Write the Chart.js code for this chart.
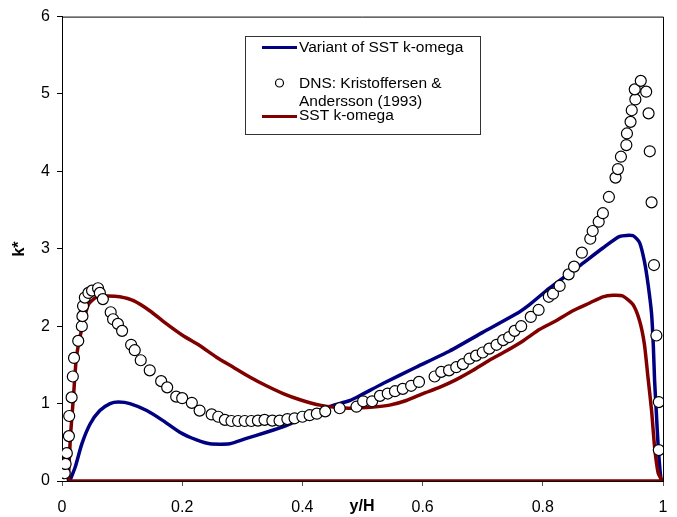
<!DOCTYPE html>
<html>
<head>
<meta charset="utf-8">
<script src="https://cdn.jsdelivr.net/npm/chart.js@4"></script>
<style>
  body { margin: 0; background: #fff; }
  #kChart { display: block; }
</style>
</head>
<body>
<canvas id="kChart" width="677" height="517"></canvas>
<script>
// k* profile across the channel (y/H from wall to wall)
const xTicks = [0, 0.2, 0.4, 0.6, 0.8, 1];
const yTicks = [0, 1, 2, 3, 4, 5, 6];

// DNS points
const dnsX = [0, 0.0045, 0.006, 0.008, 0.0115, 0.012, 0.016, 0.018, 0.02, 0.027, 0.033, 0.034, 0.035, 0.038, 0.044, 0.05, 0.06, 0.063, 0.068,
  0.081, 0.085, 0.093, 0.1, 0.115, 0.121, 0.131, 0.146, 0.165, 0.175, 0.19, 0.2, 0.216, 0.229, 0.249, 0.26, 0.271, 0.282, 0.293, 0.304,
  0.315, 0.326, 0.337, 0.35, 0.362, 0.375, 0.387, 0.4, 0.412, 0.424, 0.438, 0.462, 0.49, 0.501, 0.516, 0.529, 0.542, 0.554, 0.567, 0.581,
  0.594, 0.62, 0.631, 0.644, 0.656, 0.667, 0.678, 0.689, 0.7, 0.711, 0.723, 0.734, 0.744, 0.753, 0.764, 0.78, 0.793, 0.81, 0.817, 0.828,
  0.843, 0.852, 0.865, 0.879, 0.883, 0.893, 0.9, 0.91, 0.921, 0.925, 0.93, 0.939, 0.94, 0.946, 0.948, 0.954, 0.953, 0.963, 0.972, 0.976,
  0.978, 0.981, 0.985, 0.989, 0.993, 0.993];
const dnsK = [0, 0.1, 0.22, 0.36, 0.58, 0.84, 1.08, 1.35, 1.59, 1.81, 2.0, 2.13, 2.26, 2.37, 2.43, 2.46, 2.49, 2.43, 2.35,
  2.18, 2.09, 2.03, 1.94, 1.76, 1.69, 1.56, 1.43, 1.29, 1.21, 1.09, 1.07, 1.01, 0.91, 0.86, 0.83, 0.79, 0.775, 0.775, 0.775,
  0.775, 0.78, 0.79, 0.78, 0.78, 0.8, 0.81, 0.83, 0.85, 0.87, 0.9, 0.94, 0.96, 1.03, 1.03, 1.1, 1.13, 1.16, 1.19, 1.23,
  1.28, 1.35, 1.41, 1.43, 1.47, 1.51, 1.58, 1.62, 1.66, 1.71, 1.76, 1.82, 1.86, 1.94, 2.0, 2.12, 2.21, 2.38, 2.42, 2.52,
  2.67, 2.77, 2.95, 3.13, 3.23, 3.35, 3.46, 3.67, 3.92, 4.03, 4.19, 4.34, 4.49, 4.64, 4.79, 4.93, 5.06, 5.17, 5.03, 4.75,
  4.26, 3.6, 2.79, 1.88, 1.02, 0.4];

// SST k-omega (path returns along the bottom wall)
const sstX = [0.0105, 0.014, 0.019, 0.024, 0.033, 0.044, 0.058, 0.077, 0.096, 0.119, 0.146, 0.174, 0.201, 0.229, 0.257, 0.285, 0.313,
  0.34, 0.368, 0.396, 0.429, 0.457, 0.479, 0.518, 0.545, 0.573, 0.601, 0.628, 0.656, 0.684, 0.711, 0.739, 0.767, 0.795, 0.822, 0.85,
  0.878, 0.9, 0.917, 0.933, 0.95, 0.961, 0.969, 0.975, 0.981, 0.986, 0.992, 0.997, 0.0105];
const sstK = [0, 0.57, 1.08, 1.6, 1.97, 2.28, 2.38, 2.39, 2.38, 2.33, 2.2, 2.03, 1.88, 1.75, 1.6, 1.47, 1.34,
  1.23, 1.13, 1.05, 0.98, 0.95, 0.94, 0.955, 0.98, 1.04, 1.13, 1.21, 1.31, 1.43, 1.56, 1.68, 1.81, 1.96, 2.07, 2.2,
  2.3, 2.38, 2.4, 2.39, 2.28, 2.07, 1.77, 1.34, 0.91, 0.44, 0.1, 0, 0];

// Variant of SST k-omega
const varX = [0.013, 0.022, 0.033, 0.047, 0.063, 0.08, 0.094, 0.113, 0.141, 0.168, 0.196, 0.224, 0.246, 0.279, 0.307, 0.34, 0.374,
  0.407, 0.44, 0.479, 0.495, 0.534, 0.589, 0.645, 0.7, 0.756, 0.778, 0.806, 0.861, 0.9, 0.928, 0.95, 0.961, 0.969, 0.975, 0.981,
  0.984, 0.986, 0.989, 0.992, 0.995, 0.997];
const varK = [0, 0.18, 0.48, 0.74, 0.91, 1.0, 1.02, 1.0, 0.91, 0.78, 0.63, 0.53, 0.48, 0.48, 0.55, 0.63, 0.72,
  0.83, 0.95, 1.04, 1.1, 1.26, 1.47, 1.68, 1.92, 2.16, 2.28, 2.46, 2.78, 3.01, 3.16, 3.17, 3.08, 2.84, 2.55, 2.16,
  1.73, 1.3, 0.87, 0.44, 0.14, 0];

const toPoints = (xs, ys) => xs.map((x, i) => ({ x: x, y: ys[i] }));

const BLUE = '#000080';
const RED = '#800000';
const FONT = '"Liberation Sans", Arial, sans-serif';

// legend box, axis titles and the plot frame
const decorations = {
  id: 'decorations',
  beforeDatasetsDraw(chart) {
    const { ctx, chartArea: a } = chart;
    ctx.save();
    ctx.strokeStyle = '#000';
    ctx.lineWidth = 1;
    ctx.beginPath();
    ctx.moveTo(a.left, a.top + 0.5);
    ctx.lineTo(a.right + 0.5, a.top + 0.5);
    ctx.lineTo(a.right + 0.5, a.bottom);
    ctx.stroke();
    ctx.restore();
  },
  afterDraw(chart) {
    const ctx = chart.ctx;
    ctx.save();

    // axis titles
    ctx.fillStyle = '#000';
    ctx.font = 'bold 16px ' + FONT;
    ctx.textAlign = 'center';
    ctx.textBaseline = 'middle';
    ctx.fillText('y/H', 362, 507);
    ctx.translate(20, 249);
    ctx.rotate(-Math.PI / 2);
    ctx.fillText('k*', 0, 0);
    ctx.setTransform(1, 0, 0, 1, 0, 0);

    // legend
    ctx.fillStyle = '#fff';
    ctx.fillRect(245, 36, 236, 99);
    ctx.strokeStyle = '#333';
    ctx.lineWidth = 1;
    ctx.strokeRect(245.5, 36.5, 235, 98);

    ctx.lineWidth = 3;
    ctx.strokeStyle = BLUE;
    ctx.beginPath(); ctx.moveTo(262, 47.5); ctx.lineTo(297, 47.5); ctx.stroke();
    ctx.strokeStyle = RED;
    ctx.beginPath(); ctx.moveTo(262, 116.5); ctx.lineTo(297, 116.5); ctx.stroke();

    ctx.lineWidth = 1.2;
    ctx.strokeStyle = '#000';
    ctx.beginPath(); ctx.arc(279.5, 83, 4, 0, Math.PI * 2); ctx.stroke();

    ctx.fillStyle = '#000';
    ctx.font = '15.5px ' + FONT;
    ctx.textAlign = 'left';
    ctx.textBaseline = 'middle';
    ctx.fillText('Variant of SST k-omega', 299, 48);
    ctx.fillText('DNS: Kristoffersen &', 299, 84);
    ctx.fillText('Andersson (1993)', 299, 101.5);
    ctx.fillText('SST k-omega', 299, 116);
    ctx.restore();
  }
};

new Chart(document.getElementById('kChart'), {
  type: 'scatter',
  data: {
    datasets: [
      {
        label: 'DNS: Kristoffersen & Andersson (1993)',
        data: toPoints(dnsX, dnsK),
        pointRadius: 5.5,
        pointBackgroundColor: '#fff',
        pointBorderColor: '#000',
        pointBorderWidth: 1.2,
        showLine: false,
        order: 0
      },
      {
        label: 'SST k-omega',
        data: toPoints(sstX, sstK),
        showLine: true,
        borderColor: RED,
        borderWidth: 3.5,
        pointRadius: 0,
        tension: 0.2,
        order: 1
      },
      {
        label: 'Variant of SST k-omega',
        data: toPoints(varX, varK),
        showLine: true,
        borderColor: BLUE,
        borderWidth: 3.5,
        pointRadius: 0,
        tension: 0.2,
        order: 2
      }
    ]
  },
  options: {
    responsive: false,
    animation: false,
    devicePixelRatio: 1,
    layout: { padding: { top: 15, right: 14, left: 0, bottom: 0 } },
    plugins: {
      legend: { display: false },
      tooltip: { enabled: false }
    },
    scales: {
      x: {
        type: 'linear',
        min: 0,
        max: 1,
        afterBuildTicks: scale => { scale.ticks = xTicks.map(v => ({ value: v })); },
        afterFit: scale => {
          scale.height = 36;
          // keep the end labels from pushing the plot edges inward
          scale.paddingLeft = 0;
          scale.paddingRight = 0;
        },
        ticks: {
          color: '#000',
          font: { family: FONT, size: 16 },
          padding: 12,
          maxRotation: 0,
          callback: v => String(v)
        },
        grid: { drawOnChartArea: false, tickLength: 5, color: '#555' },
        border: { display: true, color: '#000', width: 1 }
      },
      y: {
        min: 0,
        max: 6,
        afterBuildTicks: scale => { scale.ticks = yTicks.map(v => ({ value: v })); },
        afterFit: scale => { scale.width = 62; },
        ticks: {
          color: '#000',
          font: { family: FONT, size: 16 },
          padding: 7,
          callback: v => String(v)
        },
        grid: { drawOnChartArea: false, tickLength: 5, color: '#000' },
        border: { display: true, color: '#000', width: 1 }
      }
    }
  },
  plugins: [decorations]
});
</script>
</body>
</html>
